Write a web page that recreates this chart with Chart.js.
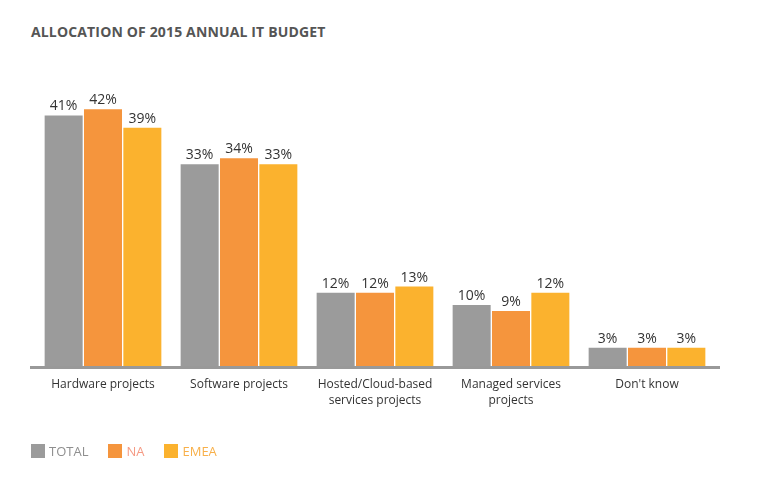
<!DOCTYPE html>
<html>
<head>
<meta charset="utf-8">
<script src="https://cdn.jsdelivr.net/npm/chart.js@4/dist/chart.umd.min.js"></script>
<style>
  html, body { margin: 0; padding: 0; background: #fff; }
  #wrap { position: relative; width: 762px; height: 477px; overflow: hidden; font-family: "Open Sans", sans-serif; }
  #title { position: absolute; left: 31px; top: 22px; font-size: 14px; font-weight: bold; color: #555; letter-spacing: 0.15px; white-space: nowrap; }
  #legend { position: absolute; left: 31px; top: 442px; display: flex; font-size: 13px; }
  .li { display: flex; align-items: center; margin-right: 20px; }
  .sw { width: 14px; height: 14px; margin-right: 4px; }
  canvas { position: absolute; left: 0; top: 0; }
</style>
</head>
<body>
<div id="wrap">
  <div id="title">ALLOCATION OF 2015 ANNUAL IT BUDGET</div>
  <canvas id="c" width="762" height="477"></canvas>
  <div id="legend"></div>
</div>
<script>
const categories = [
  ["Hardware projects"],
  ["Software projects"],
  ["Hosted/Cloud-based", "services projects"],
  ["Managed services", "projects"],
  ["Don't know"]
];
const seriesNames = ["TOTAL", "NA", "EMEA"];
const totalValues = [41, 33, 12, 10, 3];
const naValues = [42, 34, 12, 9, 3];
const emeaValues = [39, 33, 13, 12, 3];
const seriesColors = ["#9b9b9b", "#f5953d", "#fbb22e"];
const legendTextColors = ["#8f8f8f", "#f59a84", "#f8b04a"];

const valueLabels = {
  id: 'valueLabels',
  afterDatasetsDraw(chart) {
    const ctx = chart.ctx;
    ctx.save();
    ctx.font = '14px "Open Sans"';
    ctx.fillStyle = '#333';
    ctx.textAlign = 'center';
    ctx.textBaseline = 'bottom';
    chart.data.datasets.forEach((ds, i) => {
      const meta = chart.getDatasetMeta(i);
      meta.data.forEach((bar, j) => {
        ctx.fillText(ds.data[j] + '%', bar.x, bar.y - 2);
      });
    });
    ctx.restore();
  }
};
const axisLine = {
  id: 'axisLine',
  afterDatasetsDraw(chart) {
    const ctx = chart.ctx, a = chart.chartArea;
    ctx.save();
    ctx.fillStyle = '#999';
    ctx.fillRect(a.left - 5, a.bottom, a.right - a.left + 10, 3);
    ctx.restore();
  }
};

const datasets = [totalValues, naValues, emeaValues].map((vals, i) => ({
  label: seriesNames[i],
  data: vals,
  backgroundColor: seriesColors[i],
  borderWidth: 0,
  categoryPercentage: 0.868,
  barPercentage: 0.966
}));

new Chart(document.getElementById('c'), {
  type: 'bar',
  data: { labels: categories, datasets },
  options: {
    responsive: false,
    animation: false,
    layout: { padding: { left: 35, right: 47, top: 91, bottom: 0 } },
    plugins: { legend: { display: false }, title: { display: false }, tooltip: { enabled: false } },
    scales: {
      x: {
        grid: { display: false },
        border: { display: false },
        ticks: { color: '#333', font: { family: '"Open Sans"', size: 12, lineHeight: 1.35 }, padding: 2, maxRotation: 0, autoSkip: false },
        afterFit(scale) { scale.height = 111; }
      },
      y: {
        display: false,
        min: 0,
        max: 45
      }
    }
  },
  plugins: [valueLabels, axisLine]
});

const leg = document.getElementById('legend');
seriesNames.forEach((n, i) => {
  const d = document.createElement('div');
  d.className = 'li';
  d.innerHTML = '<div class="sw" style="background:' + seriesColors[i] + '"></div><span style="color:' + legendTextColors[i] + '">' + n + '</span>';
  leg.appendChild(d);
});
</script>
</body>
</html>
